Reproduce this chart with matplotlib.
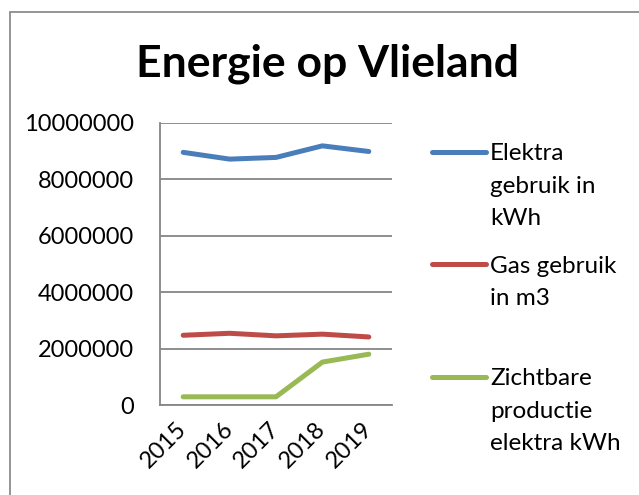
import matplotlib
matplotlib.use("Agg")
import matplotlib.pyplot as plt
from matplotlib.lines import Line2D
from matplotlib.patches import Rectangle
from matplotlib.ticker import FuncFormatter

plt.rcParams['font.family'] = ['Lato', 'DejaVu Sans']

# data
jaren = ['2015', '2016', '2017', '2018', '2019']
elektra_gebruik = [8950000, 8710000, 8770000, 9180000, 8980000]
gas_gebruik = [2470000, 2540000, 2450000, 2510000, 2410000]
zichtbare_productie = [290000, 290000, 290000, 1520000, 1800000]

labels = ['Elektra\ngebruik in\nkWh', 'Gas gebruik\nin m3', 'Zichtbare\nproductie\nelektra kWh']
kleuren = ['#4A7EBB', '#BE4B48', '#98B954']

W, H = 639, 495
fig = plt.figure(figsize=(W / 100, H / 100), dpi=100)

def fx(px):
    return px / W

def fy(py):
    return 1 - py / H

# chart area border (cropped at the right and bottom)
fig.patches.append(Rectangle((fx(9.5), fy(700)), 1.2, fy(12) - fy(700),
                             transform=fig.transFigure, fill=False,
                             edgecolor='#8c8c8c', linewidth=1.3, clip_on=False))

ax = fig.add_axes([fx(160), fy(405), fx(392) - fx(160), fy(122.7) - fy(405)])
x = list(range(len(jaren)))
reeksen = [elektra_gebruik, gas_gebruik, zichtbare_productie]
for reeks, kleur in zip(reeksen, kleuren):
    ax.plot(x, reeks, color=kleur, linewidth=3.6, solid_capstyle='round',
            solid_joinstyle='round', zorder=3)

ax.set_xlim(-0.5, len(jaren) - 0.5)
ax.set_ylim(0, 10000000)
ax.set_yticks(range(0, 10000001, 2000000))
ax.yaxis.set_major_formatter(FuncFormatter(lambda v, p: '%d' % v))
ax.grid(axis='y', color='#868686', linewidth=1.3)
ax.set_axisbelow(True)
for s in ['top', 'right']:
    ax.spines[s].set_visible(False)
for s in ['left', 'bottom']:
    ax.spines[s].set_color('#868686')
    ax.spines[s].set_linewidth(1.3)
ax.tick_params(axis='y', length=0, pad=19, labelsize=17)
ax.tick_params(axis='x', length=0, pad=15, labelsize=17)
ax.set_xticks(x)
ax.set_xticklabels(jaren, rotation=45, ha='right', va='center', rotation_mode='anchor')

fig.text(fx(328), fy(77), 'Energie op Vlieland', ha='center', va='baseline',
         fontsize=32, fontweight='bold')

# legend, drawn by hand so the key sits next to the first text line
regel = 32.5
leg_y = [151.7, 264.3, 376.7]
for ly, label, kleur in zip(leg_y, labels, kleuren):
    fig.lines.append(Line2D([fx(432), fx(486)], [fy(ly), fy(ly)], transform=fig.transFigure,
                            color=kleur, linewidth=3.6, solid_capstyle='round'))
    for i, tekst in enumerate(label.split('\n')):
        fig.text(fx(490), fy(ly + 8.5 + i * regel), tekst, ha='left', va='baseline',
                 fontsize=17.5)

fig.savefig('out.png', dpi=100)
